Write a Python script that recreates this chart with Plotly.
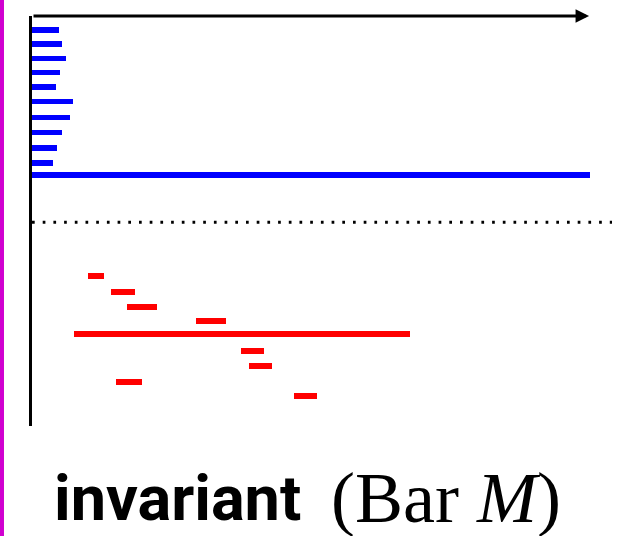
import plotly.graph_objects as go

# ---- data (x in % of axis length, y in row units) ----
blue_rows = [0.93, 1.87, 2.83, 3.78, 4.73, 5.70, 6.77, 7.77, 8.79, 9.79]
blue_lengths = [4.66, 5.22, 5.81, 4.88, 4.19, 7.02, 6.50, 5.12, 4.26, 3.67]
blue_long_row = [10.60]
blue_long_length = [96.16]

separator_row = 13.75
separator_x = [0, 100]

red_rows = [17.35, 18.37, 19.37, 20.35, 22.35, 23.35, 24.38, 25.35]
red_starts = [9.7, 13.7, 16.3, 28.2, 36.0, 37.4, 14.5, 45.2]
red_ends = [12.4, 17.7, 21.6, 33.4, 40.0, 41.3, 19.0, 49.2]
red_long_row = [21.23]
red_long_start = [7.2]
red_long_end = [65.1]

arrow_end = 96.05
y_max = 27.33

BLUE = "#0000ff"
RED = "#ff0000"

fig = go.Figure()

fig.add_trace(go.Bar(orientation="h", y=blue_rows, x=blue_lengths, base=0,
                     width=0.37, marker=dict(color=BLUE, line=dict(width=0))))
fig.add_trace(go.Bar(orientation="h", y=blue_long_row, x=blue_long_length, base=0,
                     width=0.37, marker=dict(color=BLUE, line=dict(width=0))))

fig.add_trace(go.Bar(orientation="h", y=red_rows,
                     x=[e - s for s, e in zip(red_starts, red_ends)], base=red_starts,
                     width=0.4, marker=dict(color=RED, line=dict(width=0))))
fig.add_trace(go.Bar(orientation="h", y=red_long_row,
                     x=[e - s for s, e in zip(red_long_start, red_long_end)], base=red_long_start,
                     width=0.4, marker=dict(color=RED, line=dict(width=0))))

fig.add_trace(go.Scatter(x=separator_x, y=[separator_row, separator_row], mode="lines",
                         line=dict(color="black", width=3, dash="2.7px,8px"),
                         hoverinfo="skip"))

# top axis arrow
fig.add_annotation(x=arrow_end, y=0, ax=0, ay=0, xref="x", yref="y", axref="x", ayref="y",
                   text="", showarrow=True, arrowhead=2, arrowwidth=3, arrowsize=0.9,
                   arrowcolor="black")

# title text
fig.add_annotation(xref="paper", yref="paper", x=0.034, y=-0.176, xanchor="left", yanchor="middle",
                   text="<b>invariant</b>", showarrow=False,
                   font=dict(family="Roboto", size=63, color="black"))
fig.add_annotation(xref="paper", yref="paper", x=0.512, y=-0.176, xanchor="left", yanchor="middle",
                   text="(Bar <i>M</i>)", showarrow=False,
                   font=dict(family="Liberation Serif", size=72, color="black"))

# magenta edge bar
fig.add_shape(type="rect", xref="paper", yref="paper", x0=-0.0552, x1=-0.0483,
              y0=-0.27, y1=1.04, fillcolor="#d000d0", line=dict(width=0), layer="above")

fig.update_layout(
    width=629, height=536,
    margin=dict(l=32, r=17, t=16, b=110),
    paper_bgcolor="white", plot_bgcolor="white",
    showlegend=False, barmode="overlay", bargap=0,
    xaxis=dict(range=[0, 100], showgrid=False, zeroline=False, showticklabels=False,
               ticks="", showline=False, fixedrange=True),
    yaxis=dict(range=[y_max, 0], showgrid=False, zeroline=False, showticklabels=False,
               ticks="", showline=True, linewidth=3, linecolor="black", fixedrange=True),
)

fig.write_html("out.html", config={"displayModeBar": False},
               post_script="document.body.style.margin='0';document.body.style.overflow='hidden';")
